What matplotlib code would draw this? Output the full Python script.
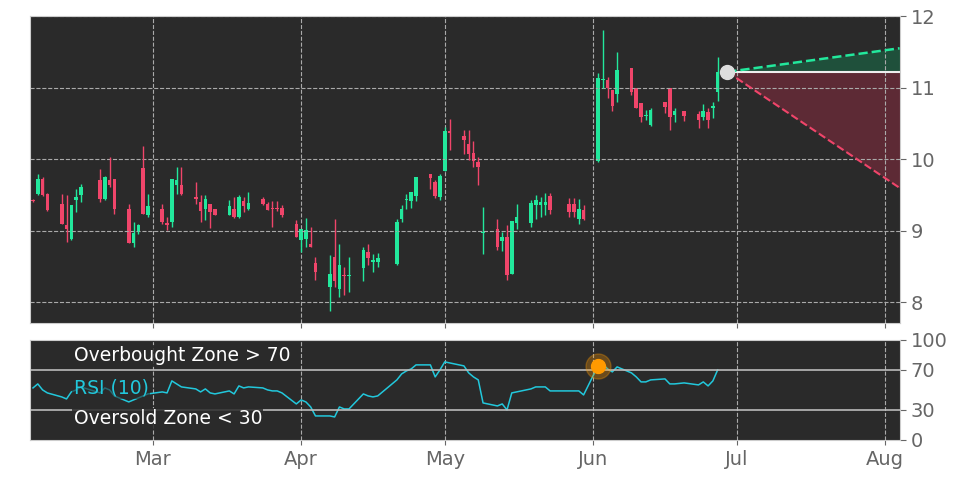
import matplotlib
matplotlib.use("Agg")
import matplotlib.pyplot as plt
import matplotlib.dates as mdates
import pandas as pd
import numpy as np

holidays = ["2025-02-17", "2025-04-18", "2025-05-26", "2025-06-19"]
dates = [d for d in pd.bdate_range("2025-02-04", "2025-06-27") if d.strftime("%Y-%m-%d") not in holidays]

opens = [9.43,9.52,9.73,9.51, 9.38,9.08,8.89,9.43,9.50, 9.71,9.45,9.71,9.73, 9.30,8.83,8.98,9.88,9.22,
         9.30,9.11,9.12,9.64,9.64, 9.47,9.40,9.31,9.38,9.30, 9.22,9.31,9.19,9.42,9.30, 9.44,9.37,9.31,9.31,9.32,
         9.10,8.87,8.89,8.81,8.55, 8.22,8.63,8.19,8.39,8.37, 8.48,8.70,8.57,8.57, 8.54,9.17,9.43,9.42,9.48,
         9.79,9.68,9.47,9.84,10.40, 10.32,10.21,10.09,9.96,8.97, 9.02,8.86,8.91,8.40,9.11, 9.11,9.36,9.36,9.36,9.48,
         9.38,9.38,9.16,9.29, 9.98,11.11,11.10,10.96,10.91, 11.27,10.99,10.78,10.60,10.48, 10.80,10.99,10.62,10.68,
         10.63,10.59,10.66,10.72,10.94]
closes = [9.42,9.73,9.50,9.29, 9.10,9.03,9.36,9.47,9.61, 9.45,9.75,9.64,9.30, 8.83,8.97,9.08,9.24,9.34,
          9.12,9.08,9.72,9.71,9.51, 9.45,9.28,9.44,9.26,9.22, 9.34,9.19,9.47,9.34,9.39, 9.38,9.29,9.30,9.30,9.22,
          8.91,9.02,9.01,8.77,8.42, 8.40,8.30,8.52,8.37,8.39, 8.73,8.62,8.59,8.62, 9.12,9.31,9.44,9.54,9.75,
          9.74,9.48,9.76,10.40,10.36, 10.27,10.08,9.98,9.89,8.97, 8.78,8.91,8.39,9.14,9.19, 9.39,9.43,9.40,9.40,9.29,
          9.26,9.26,9.30,9.16, 11.14,11.11,10.99,10.75,11.24, 10.94,10.71,10.59,10.61,10.69, 10.73,10.59,10.68,10.61,
          10.55,10.68,10.55,10.75,11.22]
highs = [9.45,9.80,9.75,9.53, 9.52,9.50,9.36,9.59,9.65, 9.87,9.77,10.03,9.73, 9.38,9.12,9.10,10.18,9.51,
         9.37,9.19,9.72,9.89,9.89, 9.68,9.50,9.50,9.38,9.30, 9.43,9.47,9.50,9.47,9.54, 9.47,9.40,9.42,9.42,9.36,
         9.15,9.02,9.18,9.05,8.64, 8.66,9.17,8.81,8.49,8.63, 8.77,8.81,8.68,8.69, 9.17,9.36,9.51,9.54,9.75,
         9.79,9.71,9.80,10.45,10.56, 10.41,10.41,10.26,10.03,9.33, 9.16,8.98,9.08,9.14,9.37, 9.43,9.50,9.47,9.53,9.53,
         9.46,9.46,9.44,9.36, 11.20,11.81,11.15,10.96,11.50, 11.27,10.99,10.78,10.69,10.71, 10.80,10.99,10.71,10.68,
         10.68,10.77,10.71,10.80,11.43]
lows = [9.40,9.50,9.48,9.27, 9.10,8.84,8.87,9.26,9.40, 9.40,9.43,9.61,9.24, 8.83,8.77,8.95,9.24,9.20,
        9.10,9.01,9.05,9.52,9.50, 9.38,9.12,9.15,9.04,9.22, 9.22,9.18,9.18,9.26,9.29, 9.36,9.29,9.05,9.28,9.20,
        8.91,8.70,8.77,8.77,8.31, 7.88,8.21,8.07,8.10,8.14, 8.30,8.52,8.42,8.49, 8.52,9.12,9.30,9.32,9.42,
        9.59,9.46,9.43,9.84,10.13, 10.08,9.99,9.89,9.64,8.68, 8.73,8.72,8.32,8.40,9.03, 9.05,9.17,9.20,9.22,9.24,
        9.20,9.20,9.09,9.15, 9.96,10.99,10.85,10.68,10.80, 10.90,10.71,10.52,10.55,10.46, 10.64,10.41,10.52,10.54,
        10.43,10.55,10.43,10.57,10.82]
rsi = [52,56,50,47, 43,41,48,50,53, 47,52,50,44, 38,40,42,44,46,
       48,47,59,56,53, 51,48,51,47,46, 49,46,54,52,53, 52,50,49,49,47,
       36,40,38,33,24, 24,23,33,31,31, 46,44,43,44, 60,66,69,71,75,
       75,63,70,78,77, 74,67,63,60,37, 34,36,30,47,48, 51,53,53,53,49,
       49,49,49,45, 74,76,71,68,73, 67,63,58,58,60, 61,56,56,57,
       55,58,54,59,70]

proj_start = "2025-06-29"
proj_end = "2025-08-04"
last_price = 11.22
proj_high = 11.55
proj_low = 9.60
month_ticks = ["2025-03-01", "2025-04-01", "2025-05-01", "2025-06-01", "2025-07-01", "2025-08-01"]
month_labels = ["Mar", "Apr", "May", "Jun", "Jul", "Aug"]

BG = "#2a2a2a"
GREEN = "#22e89c"
RED = "#f0456a"
TXT = "#666666"

fig = plt.figure(figsize=(9.72, 4.86), dpi=100)
ax = fig.add_axes([0.031, 0.335, 0.895, 0.632])
ax2 = fig.add_axes([0.031, 0.0947, 0.895, 0.206], sharex=ax)

x = mdates.date2num(dates)
xlim = (mdates.datestr2num("2025-02-03") + 0.4, mdates.datestr2num(proj_end) + 0.1)

for a in (ax, ax2):
    a.set_facecolor(BG)
    for s in a.spines.values():
        s.set_color("#cccccc")
    a.yaxis.tick_right()
    a.tick_params(axis="y", labelsize=14, colors=TXT, length=4)
    a.tick_params(axis="x", labelsize=14, colors=TXT)
    a.grid(True, axis="x", color="#aaaaaa", linestyle="--", linewidth=0.8)

for xi, o, h, l, c in zip(x, opens, highs, lows, closes):
    col = GREEN if c >= o else RED
    ax.vlines(xi, l, h, color=col, linewidth=1)
    lo, hi = min(o, c), max(o, c)
    ax.bar(xi, max(hi - lo, 0.015), bottom=lo, width=0.75, color=col, linewidth=0)

# projection
xs0 = mdates.datestr2num(proj_start)
xs1 = mdates.datestr2num(proj_end)
ax.fill_between([xs0, xs1], [last_price, last_price], [last_price, proj_high], color="#1d5a40", alpha=0.8, linewidth=0)
ax.fill_between([xs0, xs1], [last_price, last_price], [last_price, proj_low], color="#6a2a38", alpha=0.8, linewidth=0)
ax.plot([xs0, xs1], [last_price, last_price], color="#eeeeee", linewidth=1.5)
ax.plot([xs0, xs1], [last_price, proj_high], color=GREEN, linewidth=1.8, linestyle="--")
ax.plot([xs0, xs1], [last_price, proj_low], color=RED, linewidth=1.5, linestyle="--")
ax.plot([xs0], [last_price], "o", color="#dddddd", markersize=10, zorder=5)

ax.set_ylim(7.71, 12.0)
ax.set_yticks([8, 9, 10, 11, 12])
ax.grid(True, axis="y", color="#aaaaaa", linestyle="--", linewidth=0.8)
ax.tick_params(axis="x", labelbottom=False)
ax.set_xlim(*xlim)

# RSI
ax2.plot(x, rsi, color="#22c8dc", linewidth=1.1)
ax2.axhline(70, color="#bbbbbb", linewidth=1.2)
ax2.axhline(30, color="#bbbbbb", linewidth=1.2)
jun2 = mdates.datestr2num("2025-06-02")
ir = dates.index(pd.Timestamp("2025-06-02"))
ax2.plot([x[ir]], [rsi[ir]], "o", color="#ff9a00", markersize=18, alpha=0.3, zorder=4)
ax2.plot([x[ir]], [rsi[ir]], "o", color="#ff9a00", markersize=10, zorder=5)
ax2.set_ylim(0, 100)
ax2.set_yticks([0, 30, 70, 100])
ax2.set_xticks(mdates.datestr2num(month_ticks))
ax2.set_xticklabels(month_labels)
ax2.set_xlim(*xlim)

bb = dict(facecolor=BG, edgecolor="none", pad=1, alpha=0.85)
ax2.text(0.05, 0.84, "Overbought Zone > 70", transform=ax2.transAxes, color="white", fontsize=13.5, va="center", bbox=bb)
ax2.text(0.05, 0.52, "RSI (10)", transform=ax2.transAxes, color="#22c8dc", fontsize=13.5, va="center", bbox=dict(facecolor=BG, edgecolor="none", pad=1, alpha=0.6))
ax2.text(0.05, 0.21, "Oversold Zone < 30", transform=ax2.transAxes, color="white", fontsize=13.5, va="center", bbox=bb)

fig.savefig("out.png", dpi=100)
